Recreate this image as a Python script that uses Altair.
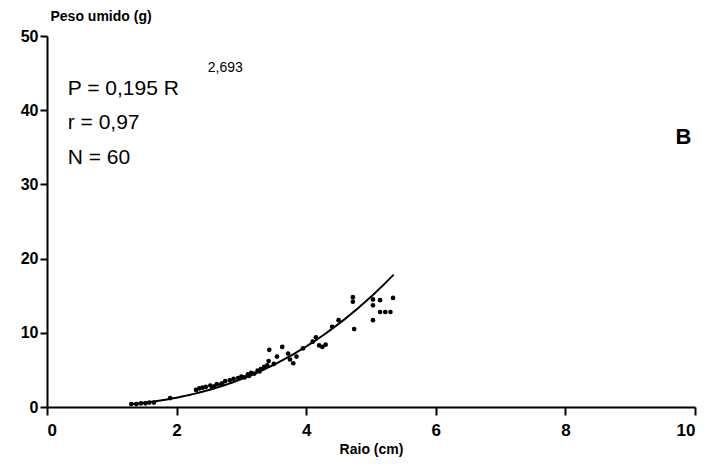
import altair as alt
import pandas as pd

# Data
raio = [1.30, 1.38, 1.45, 1.52, 1.58, 1.65, 1.90,
        2.30, 2.35, 2.40, 2.45, 2.52, 2.55, 2.58, 2.62, 2.68, 2.70, 2.75, 2.82, 2.88,
        2.95, 3.00, 3.05, 3.10, 3.12, 3.15, 3.20, 3.25, 3.28, 3.30, 3.35, 3.40, 3.42,
        3.43, 3.50, 3.55, 3.63, 3.72, 3.75, 3.80, 3.85, 3.95,
        4.10, 4.15, 4.20, 4.25, 4.30, 4.40, 4.50,
        4.72, 4.72, 4.74, 5.03, 5.03, 5.03, 5.14, 5.14, 5.22, 5.30, 5.34]
peso = [0.4, 0.4, 0.5, 0.5, 0.6, 0.6, 1.2,
        2.3, 2.5, 2.6, 2.7, 2.9, 2.6, 2.8, 3.1, 3.0, 3.2, 3.5, 3.6, 3.8,
        3.9, 4.1, 4.0, 4.4, 4.2, 4.6, 4.5, 4.9, 4.8, 5.1, 5.4, 5.6, 6.2,
        7.7, 5.8, 6.8, 8.1, 7.2, 6.4, 5.9, 6.8, 7.9,
        8.8, 9.4, 8.3, 8.1, 8.4, 10.8, 11.7,
        14.2, 14.8, 10.5, 13.7, 14.5, 11.7, 14.4, 12.8, 12.8, 12.8, 14.7]

coef_a = 0.195
coef_b = 2.693
r_min, r_max = 1.3, 5.35

x_ticks = [0, 2, 4, 6, 8, 10]
y_ticks = [0, 10, 20, 30, 40, 50]

ann_text = ["P = 0,195 R", "r = 0,97", "N = 60"]
ann_r = [0.32, 0.32, 0.32]
ann_p = [42.8, 38.3, 33.6]

df = pd.DataFrame({"Raio": raio, "Peso": peso})
ann = pd.DataFrame({"t": ann_text, "Raio": ann_r, "Peso": ann_p})

FONT = "Liberation Sans"

xs = alt.Scale(domain=[0, 10], nice=False)
ys = alt.Scale(domain=[0, 50], nice=False)

x_axis = alt.Axis(values=x_ticks, format="d", grid=False, title="Raio (cm)", labelFont=FONT,
                  labelFontSize=17, labelFontWeight="bold", labelColor="black",
                  labelPadding=7, titleFont=FONT, titleFontSize=14,
                  titleFontWeight="bold", titleColor="black", titlePadding=4,
                  domainColor="black", domainWidth=2, tickColor="black",
                  tickWidth=2, tickSize=8)
y_axis = alt.Axis(values=y_ticks, format="d", grid=False, title="Peso umido (g)", labelFont=FONT,
                  labelFontSize=16, labelFontWeight="bold", labelColor="black",
                  labelPadding=2, titleFont=FONT, titleFontSize=14,
                  titleFontWeight="bold", titleColor="black", titleAngle=0,
                  titleAlign="left", titleBaseline="bottom", titleX=3, titleY=-13,
                  domainColor="black", domainWidth=2, tickColor="black",
                  tickWidth=2, tickSize=7)

points = alt.Chart(df).mark_circle(size=22, color="black", opacity=1).encode(
    x=alt.X("Raio:Q", scale=xs, axis=x_axis),
    y=alt.Y("Peso:Q", scale=ys, axis=y_axis),
)

curve = (
    alt.Chart(alt.SequenceGenerator(sequence=alt.SequenceParams(start=r_min, stop=r_max + 0.001, step=0.05, **{"as": "r"})))
    .transform_calculate(p=f"{coef_a} * pow(datum.r, {coef_b})")
    .mark_line(color="black", strokeWidth=2)
    .encode(x=alt.X("r:Q", scale=xs), y=alt.Y("p:Q", scale=ys))
)

texts = alt.Chart(ann).mark_text(align="left", baseline="middle", font=FONT,
                                 fontSize=21, fontWeight=500, color="black").encode(
    x=alt.X("Raio:Q", scale=xs), y=alt.Y("Peso:Q", scale=ys), text="t:N")

expo = alt.Chart(pd.DataFrame({"t": ["2,693"], "Raio": [2.48], "Peso": [45.7]})).mark_text(
    align="left", baseline="middle", font=FONT, fontSize=14, color="black").encode(
    x=alt.X("Raio:Q", scale=xs), y=alt.Y("Peso:Q", scale=ys), text="t:N")

label_b = alt.Chart(pd.DataFrame({"t": ["B"], "Raio": [9.82], "Peso": [36.4]})).mark_text(
    align="center", baseline="middle", font=FONT, fontSize=22, fontWeight="bold",
    color="black").encode(
    x=alt.X("Raio:Q", scale=xs), y=alt.Y("Peso:Q", scale=ys), text="t:N")

chart = (
    alt.layer(curve, points, texts, expo, label_b)
    .properties(width=648, height=371, background="white",
                autosize=alt.AutoSizeParams(type="none"),
                padding={"left": 47, "top": 36, "right": 10, "bottom": 59})
    .configure_view(stroke=None)
)

chart.save("out.html", embed_options={"renderer": "svg", "actions": False})
